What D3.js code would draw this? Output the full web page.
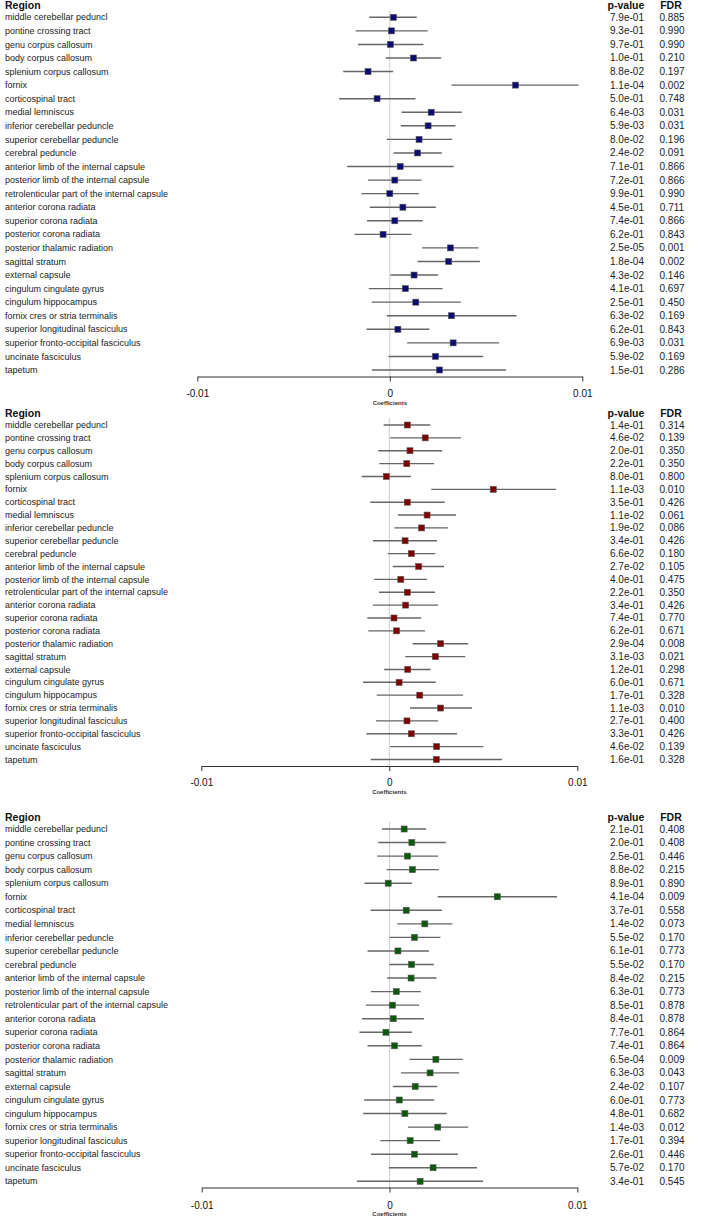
<!DOCTYPE html>
<html><head><meta charset="utf-8">
<script src="https://cdn.jsdelivr.net/npm/d3@7/dist/d3.min.js"></script>
<style>body{margin:0;background:#fff}svg{display:block}text{font-family:"Liberation Sans",Arial,sans-serif}</style>
</head><body><svg id="c" width="709" height="1217"></svg>
<script>
const regions = ["middle cerebellar peduncl","pontine crossing tract","genu corpus callosum","body corpus callosum","splenium corpus callosum","fornix","corticospinal tract","medial lemniscus","inferior cerebellar peduncle","superior cerebellar peduncle","cerebral peduncle","anterior limb of the internal capsule","posterior limb of the internal capsule","retrolenticular part of the internal capsule","anterior corona radiata","superior corona radiata","posterior corona radiata","posterior thalamic radiation","sagittal stratum","external capsule","cingulum cingulate gyrus","cingulum hippocampus","fornix cres or stria terminalis","superior longitudinal fasciculus","superior fronto-occipital fasciculus","uncinate fasciculus","tapetum"];
const tickValues = [-0.01, 0, 0.01];
const tickLabels = ["-0.01", "0", "0.01"];
const axisTitle = "Coefficients";

// Panel 1 (values in units of 1e-3)
const est1 = [0.19,0.09,0.03,1.23,-1.13,6.53,-0.66,2.15,1.99,1.52,1.44,0.54,0.26,0.00,0.68,0.26,-0.35,3.15,3.06,1.26,0.81,1.35,3.20,0.42,3.29,2.37,2.58];
const lo1  = [-1.07,-1.77,-1.65,-0.21,-2.42,3.20,-2.63,0.61,0.57,-0.16,0.19,-2.22,-1.13,-1.47,-1.04,-1.18,-1.83,1.68,1.44,0.03,-1.09,-0.94,-0.16,-1.21,0.90,-0.07,-0.92];
const hi1  = [1.40,1.97,1.75,2.67,0.17,9.80,1.33,3.74,3.41,3.24,2.70,3.32,1.65,1.51,2.39,1.71,1.13,4.61,4.68,2.51,2.74,3.69,6.58,2.06,5.68,4.85,6.04];
const p1   = ["7.9e-01","9.3e-01","9.7e-01","1.0e-01","8.8e-02","1.1e-04","5.0e-01","6.4e-03","5.9e-03","8.0e-02","2.4e-02","7.1e-01","7.2e-01","9.9e-01","4.5e-01","7.4e-01","6.2e-01","2.5e-05","1.8e-04","4.3e-02","4.1e-01","2.5e-01","6.3e-02","6.2e-01","6.9e-03","5.9e-02","1.5e-01"];
const fdr1 = ["0.885","0.990","0.990","0.210","0.197","0.002","0.748","0.031","0.031","0.196","0.091","0.866","0.866","0.990","0.711","0.866","0.843","0.001","0.002","0.146","0.697","0.450","0.169","0.843","0.031","0.169","0.286"];

// Panel 2
const est2 = [0.96,1.91,1.10,0.93,-0.16,5.53,0.96,2.01,1.72,0.84,1.17,1.56,0.61,0.96,0.87,0.25,0.39,2.73,2.45,0.98,0.52,1.62,2.73,0.94,1.17,2.52,2.50];
const lo2  = [-0.30,0.04,-0.59,-0.53,-1.47,2.23,-1.01,0.46,0.27,-0.87,-0.07,0.18,-0.80,-0.55,-0.87,-1.17,-1.12,1.24,0.85,-0.27,-1.40,-0.67,1.10,-0.71,-1.22,0.04,-0.99];
const hi2  = [2.18,3.81,2.82,2.38,1.15,8.87,2.95,3.55,3.12,2.54,2.45,2.91,2.01,2.43,2.59,1.70,1.90,4.20,4.04,2.20,2.47,3.92,4.40,2.59,3.60,5.00,5.99];
const p2   = ["1.4e-01","4.6e-02","2.0e-01","2.2e-01","8.0e-01","1.1e-03","3.5e-01","1.1e-02","1.9e-02","3.4e-01","6.6e-02","2.7e-02","4.0e-01","2.2e-01","3.4e-01","7.4e-01","6.2e-01","2.9e-04","3.1e-03","1.2e-01","6.0e-01","1.7e-01","1.1e-03","2.7e-01","3.3e-01","4.6e-02","1.6e-01"];
const fdr2 = ["0.314","0.139","0.350","0.350","0.800","0.010","0.426","0.061","0.086","0.426","0.180","0.105","0.475","0.350","0.426","0.770","0.671","0.008","0.021","0.298","0.671","0.328","0.010","0.400","0.426","0.139","0.328"];

// Panel 3
const est3 = [0.78,1.19,0.96,1.22,-0.07,5.74,0.89,1.88,1.33,0.45,1.17,1.15,0.36,0.16,0.20,-0.19,0.27,2.47,2.16,1.37,0.52,0.82,2.57,1.10,1.33,2.32,1.63];
const lo3  = [-0.40,-0.60,-0.65,-0.16,-1.33,2.57,-1.01,0.41,0.00,-1.17,0.00,-0.12,-0.99,-1.26,-1.47,-1.60,-1.17,1.06,0.61,0.18,-1.35,-1.40,0.98,-0.49,-0.99,-0.03,-1.73];
const hi3  = [1.95,3.00,2.59,2.63,1.19,8.92,2.79,3.35,2.71,2.10,2.36,2.50,1.67,1.58,1.83,1.19,1.72,3.90,3.71,2.54,2.38,3.05,4.19,2.70,3.64,4.66,4.98];
const p3   = ["2.1e-01","2.0e-01","2.5e-01","8.8e-02","8.9e-01","4.1e-04","3.7e-01","1.4e-02","5.5e-02","6.1e-01","5.5e-02","8.4e-02","6.3e-01","8.5e-01","8.4e-01","7.7e-01","7.4e-01","6.5e-04","6.3e-03","2.4e-02","6.0e-01","4.8e-01","1.4e-03","1.7e-01","2.6e-01","5.7e-02","3.4e-01"];
const fdr3 = ["0.408","0.408","0.446","0.215","0.890","0.009","0.558","0.073","0.170","0.773","0.170","0.215","0.773","0.878","0.878","0.864","0.864","0.009","0.043","0.107","0.773","0.682","0.012","0.394","0.446","0.170","0.545"];

const panels = [
  {est:est1, lo:lo1, hi:hi1, p:p1, fdr:fdr1, color:"#0b0b72", top:17.3, bottom:370, x0:197.3, x1:582.3, axisY:376.5, tickY:393, titleY:402.5},
  {est:est2, lo:lo2, hi:hi2, p:p2, fdr:fdr2, color:"#800000", top:425, bottom:759.5, x0:201.3, x1:577.3, axisY:766, tickY:782.5, titleY:791.5},
  {est:est3, lo:lo3, hi:hi3, p:p3, fdr:fdr3, color:"#0b5a0b", top:829, bottom:1181.3, x0:201.7, x1:577.3, axisY:1187.5, tickY:1205, titleY:1214}
];

const svg = d3.select("#c");

panels.forEach(P => {
  const g = svg.append("g");
  const x = d3.scaleLinear().domain([-0.01, 0.01]).range([P.x0, P.x1]);
  const y = d3.scalePoint().domain(d3.range(regions.length)).range([P.top, P.bottom]);
  const rows = regions.map((r, i) => ({r, i, est:P.est[i]/1000, lo:P.lo[i]/1000, hi:P.hi[i]/1000, p:P.p[i], fdr:P.fdr[i]}));

  const hy = P.top - 11.5;
  g.append("text").attr("x", 5).attr("y", hy).attr("dy", "0.35em").attr("font-size", 10.5).attr("font-weight", "bold").attr("fill", "#111").text("Region");
  g.append("text").attr("x", 626).attr("y", hy).attr("dy", "0.35em").attr("text-anchor", "middle").attr("font-size", 10.5).attr("font-weight", "bold").attr("fill", "#111").text("p-value");
  g.append("text").attr("x", 671).attr("y", hy).attr("dy", "0.35em").attr("text-anchor", "middle").attr("font-size", 10.5).attr("font-weight", "bold").attr("fill", "#111").text("FDR");

  g.append("line").attr("x1", x(0)).attr("x2", x(0)).attr("y1", P.top - 7).attr("y2", P.axisY)
    .attr("stroke", "#cfcfcf").attr("stroke-width", 1);

  g.selectAll("text.lab").data(rows).join("text").attr("class", "lab")
    .attr("x", 5).attr("y", d => y(d.i)).attr("dy", "0.35em").attr("font-size", 9).attr("fill", "#222").text(d => d.r);
  g.selectAll("text.pv").data(rows).join("text").attr("class", "pv")
    .attr("x", 627).attr("y", d => y(d.i)).attr("dy", "0.35em").attr("text-anchor", "middle").attr("font-size", 10).attr("fill", "#222").text(d => d.p);
  g.selectAll("text.fdr").data(rows).join("text").attr("class", "fdr")
    .attr("x", 672).attr("y", d => y(d.i)).attr("dy", "0.35em").attr("text-anchor", "middle").attr("font-size", 10).attr("fill", "#222").text(d => d.fdr);

  g.selectAll("line.ci").data(rows).join("line").attr("class", "ci")
    .attr("x1", d => x(d.lo)).attr("x2", d => x(d.hi)).attr("y1", d => y(d.i)).attr("y2", d => y(d.i))
    .attr("stroke", "#666").attr("stroke-width", 1.4);
  const s = 6;
  g.selectAll("rect.pt").data(rows).join("rect").attr("class", "pt")
    .attr("x", d => x(d.est) - s/2).attr("y", d => y(d.i) - s/2).attr("width", s).attr("height", s)
    .attr("fill", P.color).attr("stroke", "#555").attr("stroke-width", 0.6);

  const ax = d3.axisBottom(x).tickValues(tickValues).tickFormat((d, i) => tickLabels[i]).tickSize(5).tickSizeOuter(0);
  const axg = g.append("g").attr("transform", `translate(0,${P.axisY})`).call(ax);
  axg.select(".domain").attr("stroke", "#333").attr("stroke-width", 1);
  axg.selectAll(".tick line").attr("stroke", "#333");
  axg.selectAll(".tick text").attr("font-size", 10).attr("fill", "#111").attr("font-family", "Liberation Sans, Arial, sans-serif")
    .attr("y", null).attr("dy", null).attr("transform", `translate(0,${P.tickY - P.axisY + 3.5})`);
  g.append("text").attr("x", x(0)).attr("y", P.titleY).attr("dy", "0.35em").attr("text-anchor", "middle").attr("font-size", 6).attr("font-weight", "bold").attr("fill", "#333").text(axisTitle);
});
</script></body></html>
